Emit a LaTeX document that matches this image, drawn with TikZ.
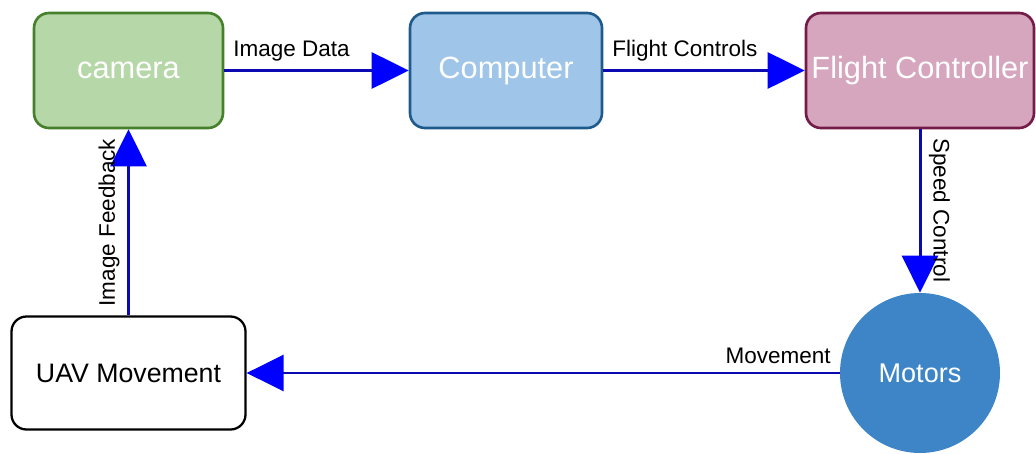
\documentclass[tikz,border=0pt]{standalone}
\usepackage{xcolor}
\usepackage{fontspec}
\setmainfont{Liberation Sans}
\usepackage{tikz}
\usetikzlibrary{arrows.meta,shapes,positioning,calc}

\definecolor{camfill}{HTML}{B6D7A8}
\definecolor{camline}{HTML}{45802A}
\definecolor{compfill}{HTML}{9FC5E8}
\definecolor{compline}{HTML}{1F5A8C}
\definecolor{fcfill}{HTML}{D5A6BD}
\definecolor{fcline}{HTML}{741B47}
\definecolor{motfill}{HTML}{3D85C6}
\definecolor{flowline}{HTML}{0A0AB0}

\begin{document}
\begin{tikzpicture}[
  block/.style={draw, rectangle, rounded corners=0.3cm, line width=1.5pt, inner sep=0pt,
    minimum height=2.3cm, text=white, font=\fontsize{17.5}{20}\selectfont},
  flow/.style={draw=flowline, line width=1.7pt,
    -{Triangle[length=7.4mm, width=7.2mm, color=blue]}},
  lbl/.style={inner sep=0.15cm, font=\fontsize{12.8}{15}\selectfont}
]
\useasboundingbox (0,0) rectangle (20.72,-9.06);

% Top row
\node[block, minimum width=3.78cm, fill=camfill, draw=camline] (camera) at (2.57,-1.41) {camera};
\node[block, minimum width=3.84cm, fill=compfill, draw=compline] (computer) at (10.12,-1.41) {Computer};
\node[block, minimum width=4.56cm, fill=fcfill, draw=fcline] (fc) at (18.4,-1.41) {Flight Controller};

% Bottom row
\node[circle, minimum size=3.2cm, inner sep=0pt, fill=motfill, text=white,
  font=\fontsize{15.4}{18}\selectfont] (motors) at (18.4,-7.46) {Motors};
\node[block, minimum width=4.68cm, minimum height=2.26cm, fill=white, draw=black,
  line width=1.3pt, text=black, font=\fontsize{15.2}{18}\selectfont] (uav) at (2.57,-7.46) {UAV Movement};

% Data flow
\draw[flow] (camera) -- node[lbl, pos=0, anchor=south west] {Image Data} (computer);
\draw[flow] (computer) -- node[lbl, pos=0, anchor=south west] {Flight Controls} (fc);
\draw[flow] (fc) -- node[lbl, pos=0, anchor=south west, rotate=-90] {Speed Control} (motors);
\draw[flow] (motors) -- node[lbl, pos=0, anchor=south east] {Movement} (uav);
\draw[flow] (uav) -- node[lbl, pos=0, anchor=south west, rotate=90] {Image Feedback} (camera);

\end{tikzpicture}
\end{document}
